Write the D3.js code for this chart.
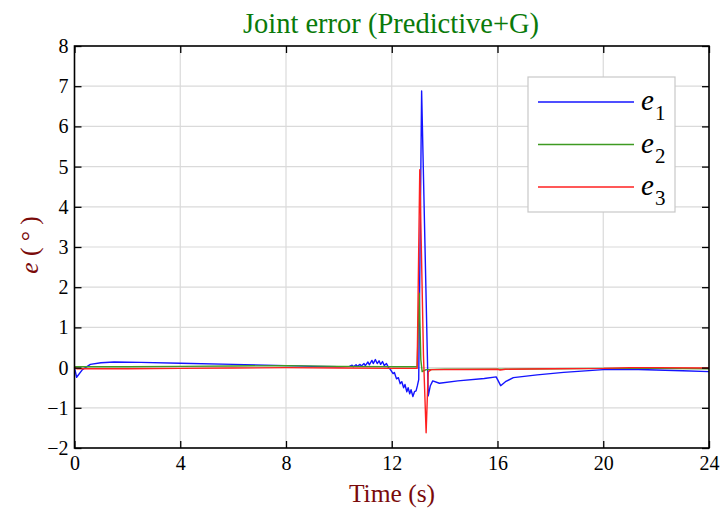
<!DOCTYPE html>
<html>
<head>
<meta charset="utf-8">
<script src="https://cdn.jsdelivr.net/npm/d3@7"></script>
<style>
  html, body { margin: 0; padding: 0; background: #fff; }
  svg { display: block; }
</style>
</head>
<body>
<svg id="chart" width="720" height="513"></svg>
<script>
// Joint tracking errors of the three joints (degrees) over time (s)
const xTicks = [0, 4, 8, 12, 16, 20, 24];
const yTicks = [-2, -1, 0, 1, 2, 3, 4, 5, 6, 7, 8];

const t1 = [0, 0.08, 0.3, 0.6, 1.0, 1.5, 2.5, 4, 6, 8, 9, 10,
  10.4, 10.5, 10.55, 10.65, 10.7, 10.8, 10.85, 10.95, 11.0, 11.1, 11.15, 11.25, 11.3, 11.38,
  11.45, 11.52, 11.58, 11.65, 11.72, 11.8, 11.88, 11.95, 12.05, 12.1, 12.18, 12.25, 12.32,
  12.38, 12.45, 12.5, 12.57, 12.62, 12.68, 12.73, 12.8, 12.86, 12.92, 12.97, 13.02, 13.13,
  13.38, 13.46, 13.55, 13.8, 14.5, 15.5, 15.95, 16.12, 16.3, 16.6, 17.5, 18.5, 20, 21, 22, 23, 24];
const e1 = [0, -0.24, -0.05, 0.08, 0.12, 0.14, 0.13, 0.11, 0.08, 0.05, 0.03, 0.02,
  0.03, 0.06, 0.02, 0.07, 0.03, 0.08, 0.04, 0.1, 0.05, 0.14, 0.07, 0.18, 0.1, 0.2,
  0.1, 0.17, 0.08, 0.15, 0.05, 0.1, 0.0, -0.05, -0.15, -0.12, -0.28, -0.25, -0.4,
  -0.35, -0.5, -0.42, -0.6, -0.5, -0.65, -0.55, -0.72, -0.6, -0.58, -0.45, -0.3, 6.88,
  -0.7, -0.45, -0.33, -0.39, -0.33, -0.27, -0.23, -0.45, -0.35, -0.25, -0.18, -0.12, -0.05, -0.04, -0.06, -0.08, -0.1];

const t2 = [0, 2, 4, 6, 8, 10, 12, 12.96, 13.04, 13.1, 13.15, 13.3, 14, 16, 18, 20, 22, 24];
const e2 = [0.02, 0.02, 0.03, 0.04, 0.05, 0.03, 0.02, 0.02, 1.85, 0.2, -0.1, -0.05, -0.04, -0.04, -0.03, -0.02, -0.02, -0.03];

const t3 = [0, 0.1, 2, 4, 6, 8, 10, 12, 12.96, 13.06, 13.2, 13.3, 13.38, 13.5, 16, 16.1, 16.3, 18, 20, 21, 22, 24];
const e3 = [0, -0.03, -0.03, -0.02, -0.01, 0.0, -0.01, -0.02, -0.02, 4.92, 0.3, -1.62, -0.1, -0.05, -0.04, -0.06, -0.04, -0.03, -0.02, 0.0, 0.0, -0.01];

const seriesNames = ["1", "2", "3"];
const seriesColors = ["#1414ff", "#3f9a22", "#ff2020"];

const svg = d3.select("#chart");
const L = 74.5, R = 709, T = 46, B = 448;

const x = d3.scaleLinear().domain([0, 24]).range([L, R]);
const y = d3.scaleLinear().domain([-2, 8]).range([B, T]);

const serif = "'Liberation Serif', 'Times New Roman', serif";

// grid
svg.append("g").selectAll("line").data(xTicks.slice(1, -1)).join("line")
  .attr("x1", d => x(d)).attr("x2", d => x(d)).attr("y1", T).attr("y2", B)
  .attr("stroke", "#dadada").attr("stroke-width", 1.2);
svg.append("g").selectAll("line").data(yTicks.slice(1, -1)).join("line")
  .attr("x1", L).attr("x2", R).attr("y1", d => y(d)).attr("y2", d => y(d))
  .attr("stroke", "#dadada").attr("stroke-width", 1.2);

// data lines
const plot = svg.append("g");
const sets = [[t1, e1], [t2, e2], [t3, e3]];
const line = d3.line().x(d => x(d[0])).y(d => y(d[1]));
sets.forEach((s, i) => {
  const pts = s[0].map((tv, k) => [tv, s[1][k]]);
  plot.append("path").datum(pts).attr("d", line)
    .attr("fill", "none").attr("stroke", seriesColors[i]).attr("stroke-width", 1.4)
    .attr("stroke-linejoin", "round");
});

// axes with inward ticks
const ax = (g, axis) => g.call(axis).call(a => a.select(".domain").remove());
const axBottom = svg.append("g").attr("transform", `translate(0,${B})`);
ax(axBottom, d3.axisBottom(x).tickValues(xTicks).tickSize(-7).tickPadding(8));
const axTop = svg.append("g").attr("transform", `translate(0,${T})`);
ax(axTop, d3.axisTop(x).tickValues(xTicks).tickSize(-7).tickFormat(""));
const axLeft = svg.append("g").attr("transform", `translate(${L},0)`);
ax(axLeft, d3.axisLeft(y).tickValues(yTicks).tickSize(-7).tickPadding(6).tickFormat(d => d < 0 ? "\u2212" + Math.abs(d) : d));
const axRight = svg.append("g").attr("transform", `translate(${R},0)`);
ax(axRight, d3.axisRight(y).tickValues(yTicks).tickSize(-7).tickFormat(""));

svg.selectAll(".tick line").attr("stroke", "#000").attr("stroke-width", 1.3);
svg.selectAll(".tick text").attr("font-family", serif).attr("font-size", 20).attr("fill", "#000");

// frame
svg.append("rect").attr("x", L).attr("y", T).attr("width", R - L).attr("height", B - T)
  .attr("fill", "none").attr("stroke", "#000").attr("stroke-width", 1.6);

// title and labels
svg.append("text").attr("x", 391).attr("y", 33).attr("text-anchor", "middle")
  .attr("font-family", serif).attr("font-size", 28.5).attr("fill", "#0a7a0a")
  .text("Joint error (Predictive+G)");
svg.append("text").attr("x", 392).attr("y", 502).attr("text-anchor", "middle")
  .attr("font-family", serif).attr("font-size", 25.5).attr("fill", "#7a0a0a")
  .text("Time (s)");
const yl = svg.append("text").attr("transform", "translate(38,245) rotate(-90)")
  .attr("text-anchor", "middle").attr("font-family", serif).attr("font-size", 25.5).attr("fill", "#7a0a0a");
yl.append("tspan").attr("font-style", "italic").text("e");
yl.append("tspan").text("  ( \u00b0 )");

// legend
const lg = svg.append("g");
lg.append("rect").attr("x", 528).attr("y", 77).attr("width", 147).attr("height", 135)
  .attr("fill", "#fff").attr("stroke", "#c8c8c8").attr("stroke-width", 1.2);
const ly = d3.scalePoint().domain(seriesNames).range([102, 187]);
seriesNames.forEach((n, i) => {
  lg.append("line").attr("x1", 538).attr("x2", 634).attr("y1", ly(n)).attr("y2", ly(n))
    .attr("stroke", seriesColors[i]).attr("stroke-width", 1.4);
  const tx = lg.append("text").attr("x", 641).attr("y", ly(n) + 8)
    .attr("font-family", serif).attr("font-size", 29).attr("fill", "#000");
  tx.append("tspan").attr("font-style", "italic").text("e");
  tx.append("tspan").attr("font-size", 21).attr("dx", 1).attr("dy", 10).text(n);
});
</script>
</body>
</html>
